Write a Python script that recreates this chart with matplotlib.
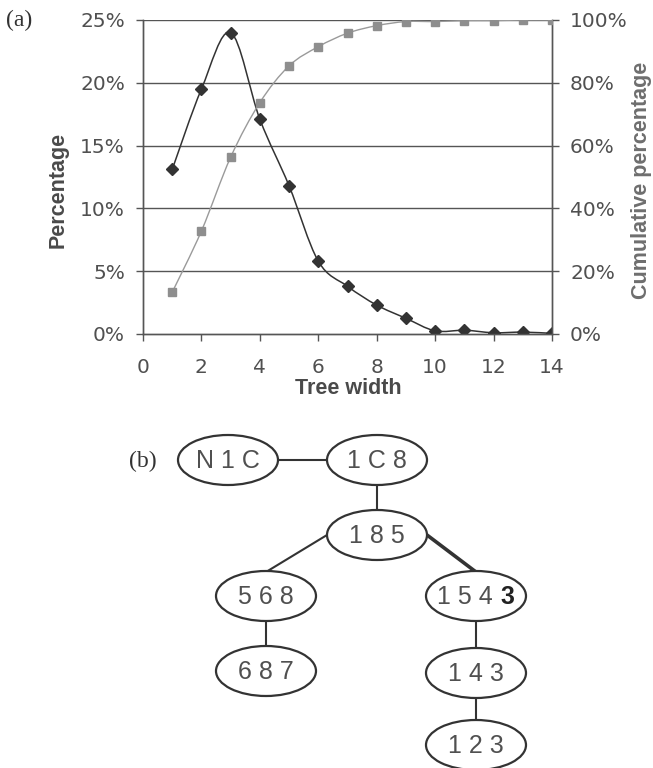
import matplotlib
matplotlib.use("Agg")
import matplotlib.pyplot as plt
from matplotlib.path import Path
from matplotlib.patches import PathPatch, Ellipse
from matplotlib.ticker import FuncFormatter

# data
tree_width = [1, 2, 3, 4, 5, 6, 7, 8, 9, 10, 11, 12, 13, 14]
percentage = [13.1, 19.5, 24.0, 17.1, 11.8, 5.8, 3.8, 2.3, 1.25, 0.25, 0.3, 0.1, 0.15, 0.05]
cumulative = [13.3, 32.8, 56.3, 73.7, 85.4, 91.5, 95.8, 98.2, 99.5, 99.5, 99.8, 99.8, 100, 100]
x_ticks = [0, 2, 4, 6, 8, 10, 12, 14]
left_ticks = [0, 5, 10, 15, 20, 25]
right_ticks = [0, 20, 40, 60, 80, 100]

# tree (b)
node_labels = ["N1C", "1C8", "185", "568", "1543", "687", "143", "123"]
edges = [("N1C", "1C8"), ("1C8", "185"), ("185", "568"), ("185", "1543"),
         ("568", "687"), ("1543", "143"), ("143", "123")]
bold_last = {"1543": True}

# layout of the tree in figure pixels (center x, center y)
node_pos = {"N1C": (228, 460), "1C8": (377, 460), "185": (377, 535),
            "568": (266, 596), "1543": (476, 596), "687": (266, 671),
            "143": (476, 673), "123": (476, 745)}
node_w, node_h = 100, 50

FONT = "Liberation Sans"
TICKFONT = "DejaVu Sans"
SERIF = "Liberation Serif"
TXT = "#505050"


def smooth_path(xs, ys):
    # excel style smoothed line through the points
    verts = [(xs[0], ys[0])]
    codes = [Path.MOVETO]
    n = len(xs)
    for i in range(n - 1):
        x0, y0 = (xs[i - 1], ys[i - 1]) if i > 0 else (xs[i], ys[i])
        x3, y3 = (xs[i + 2], ys[i + 2]) if i + 2 < n else (xs[i + 1], ys[i + 1])
        c1 = (xs[i] + (xs[i + 1] - x0) / 6.0, ys[i] + (ys[i + 1] - y0) / 6.0)
        c2 = (xs[i + 1] - (x3 - xs[i]) / 6.0, ys[i + 1] - (y3 - ys[i]) / 6.0)
        verts += [c1, c2, (xs[i + 1], ys[i + 1])]
        codes += [Path.CURVE4] * 3
    return Path(verts, codes)


fig = plt.figure(figsize=(6.53, 7.68), dpi=100)
W, H = 653.0, 768.0

ax = fig.add_axes([143 / W, 1 - 334 / H, (552 - 143) / W, (334 - 20) / H])
ax2 = ax.twinx()

ax.set_xlim(0, 14)
ax.set_ylim(0, 25)
ax2.set_ylim(0, 100)

for yv in left_ticks[1:]:
    ax.axhline(yv, color="#555555", lw=1.0, zorder=1)

ax.add_patch(PathPatch(smooth_path(tree_width, percentage), fill=False,
                       edgecolor="#333333", lw=1.1, zorder=3))
ax.plot(tree_width, percentage, ls="none", marker="D", ms=6.2,
        color="#333333", zorder=4)

ax2.add_patch(PathPatch(smooth_path(tree_width, cumulative), fill=False,
                        edgecolor="#9a9a9a", lw=1.0, zorder=3))
ax2.plot(tree_width, cumulative, ls="none", marker="s", ms=6,
         color="#8e8e8e", zorder=4)

for a in (ax, ax2):
    for s in a.spines.values():
        s.set_color("#555555")
        s.set_linewidth(1.0)
    a.spines["top"].set_visible(False)

ax.set_xticks(x_ticks)
ax.set_yticks(left_ticks)
ax2.set_yticks(right_ticks)
ax.yaxis.set_major_formatter(FuncFormatter(lambda v, p: "%d%%" % v))
ax2.yaxis.set_major_formatter(FuncFormatter(lambda v, p: "%d%%" % v))
ax.tick_params(axis="x", direction="out", length=5, width=1,
               color="#555555", labelcolor=TXT, labelsize=14.5, pad=12)
ax.tick_params(axis="y", direction="out", length=5, width=1,
               color="#555555", labelcolor=TXT, labelsize=14.5, pad=8)
ax2.tick_params(axis="y", direction="out", length=5, width=1,
                color="#555555", labelcolor=TXT, labelsize=14.5, pad=8)
for lab in ax.get_xticklabels() + ax.get_yticklabels() + ax2.get_yticklabels():
    lab.set_fontfamily(TICKFONT)

fig.text(348 / W, 1 - 389 / H, "Tree width", fontsize=15.5, fontweight="bold",
         color="#4a4a4a", family=FONT, ha="center", va="center")
fig.text(58 / W, 1 - 190 / H, "Percentage", fontsize=15.5, fontweight="bold",
         color="#4a4a4a", family=FONT, ha="center", va="center", rotation=90)
fig.text(642 / W, 1 - 180 / H, "Cumulative percentage", fontsize=15.5,
         fontweight="bold", color="#6e6e6e", family=FONT, ha="center",
         va="center", rotation=90)

fig.text(6 / W, 1 - 20 / H, "(a)", fontsize=17, family=SERIF, color="#333333",
         va="center", ha="left")

# tree diagram in pixel coordinates
tax = fig.add_axes([0, 0, 1, 1], zorder=-1)
tax.set_xlim(0, W)
tax.set_ylim(H, 0)
tax.axis("off")

tax.text(129, 461, "(b)", fontsize=17, family=SERIF, color="#333333",
         va="center", ha="left")


def anchor(a, b):
    (xa, ya), (xb, yb) = node_pos[a], node_pos[b]
    if abs(ya - yb) < 1:
        return (xa + node_w / 2, ya), (xb - node_w / 2, yb)
    if abs(xa - xb) < 1:
        return (xa, ya + node_h / 2), (xb, yb - node_h / 2)
    side = 1 if xb > xa else -1
    return (xa + side * node_w / 2, ya), (xb, yb - node_h / 2 + 1)


for a, b in edges:
    p, q = anchor(a, b)
    lw = 2.6 if b in bold_last else 1.5
    tax.plot([p[0], q[0]], [p[1], q[1]], color="#333333", lw=lw,
             solid_capstyle="butt", zorder=1)

for name in node_labels:
    cx, cy = node_pos[name]
    tax.add_patch(Ellipse((cx, cy), node_w, node_h, facecolor="white",
                          edgecolor="#333333", lw=1.6, zorder=2))
    if bold_last.get(name):
        tax.text(cx + 17, cy + 1, " ".join(name[:-1]), fontsize=18, family=FONT,
                 color=TXT, ha="right", va="center", zorder=3)
        tax.text(cx + 24, cy + 1, name[-1], fontsize=18, family=FONT,
                 fontweight="bold", color="#222222", ha="left", va="center",
                 zorder=3)
    else:
        tax.text(cx, cy + 1, " ".join(name), fontsize=18, family=FONT,
                 color=TXT, ha="center", va="center", zorder=3)

fig.savefig("out.png", dpi=100, facecolor="white")
